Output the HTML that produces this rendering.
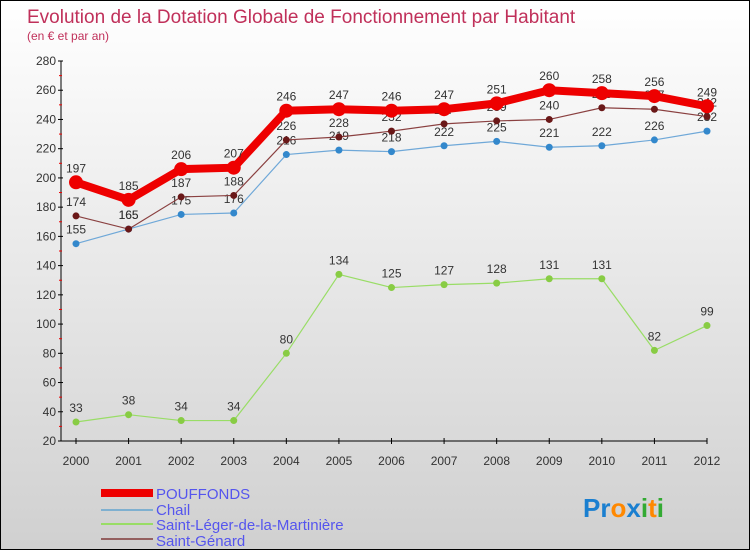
<!DOCTYPE html>
<html><head><meta charset="utf-8"><style>
body{margin:0;}
#c{width:748px;height:548px;border:1px solid #000;background:linear-gradient(#ffffff,#d0d0d0);position:relative;font-family:"Liberation Sans",sans-serif;overflow:hidden}
svg{position:absolute;left:0;top:0}
</style></head><body>
<div id="c">
<svg id="s" width="748" height="548" xmlns="http://www.w3.org/2000/svg">
<text x="26" y="22" font-size="19" fill="#c0305a">Evolution de la Dotation Globale de Fonctionnement par Habitant</text>
<text x="26" y="39" font-size="12" fill="#c0305a">(en € et par an)</text>
<g id="axes"></g><g id="series"></g>
<g>
<rect x="100" y="488" width="52" height="8" fill="#e00"/>
<text x="155" y="498" font-size="15" fill="#5555ee">POUFFONDS</text>
<rect x="100" y="508" width="52" height="2" fill="#7fb0d0"/>
<text x="155" y="514" font-size="15" fill="#5555ee">Chail</text>
<rect x="100" y="522" width="52" height="2" fill="#99dd66"/>
<text x="155" y="529" font-size="15" fill="#5555ee">Saint-Léger-de-la-Martinière</text>
<rect x="100" y="537" width="52" height="2" fill="#946060"/>
<text x="155" y="545" font-size="15" fill="#5555ee">Saint-Génard</text>
</g>
<text x="582" y="516" font-size="26" font-weight="bold"><tspan fill="#1a7fd0">Pr</tspan><tspan fill="#ff8800">o</tspan><tspan fill="#1a7fd0">x</tspan><tspan fill="#33aa33">i</tspan><tspan fill="#ff8800">t</tspan><tspan fill="#33aa33">i</tspan></text>
</svg></div>
<script>
const years=[2000,2001,2002,2003,2004,2005,2006,2007,2008,2009,2010,2011,2012];
const yTicks=[20,40,60,80,100,120,140,160,180,200,220,240,260,280];
const pouffonds=[197,185,206,207,246,247,246,247,251,260,258,256,249];
const chail=[155,165,175,176,216,219,218,222,225,221,222,226,232];
const saintLeger=[33,38,34,34,80,134,125,127,128,131,131,82,99];
const saintGenard=[174,165,187,188,226,228,232,237,239,240,248,247,242];
const NS="http://www.w3.org/2000/svg";
const X=i=>75+i*(706-75)/12;
const Y=v=>440-(v-20)*(380/260);
function mk(tag,attrs,parent){const e=document.createElementNS(NS,tag);for(const k in attrs)e.setAttribute(k,attrs[k]);parent.appendChild(e);return e;}
const ax=document.getElementById('axes');
let l=mk('line',{x1:60,y1:60,x2:60,y2:440,stroke:'#000'},ax);


l=mk('line',{x1:60,y1:440,x2:706,y2:440,stroke:'#000'},ax);


yTicks.forEach(v=>{
 mk('line',{x1:57,y1:Y(v),x2:62,y2:Y(v),stroke:'#000'},ax);
 if(v<280)mk('line',{x1:58,y1:Y(v+10),x2:61,y2:Y(v+10),stroke:'#e00'},ax);
 const t=mk('text',{x:55,y:Y(v)+4,'font-size':12,fill:'#333','text-anchor':'end'},ax);
 t.textContent=v;
 
 
});
years.forEach((y,i)=>{
 mk('line',{x1:X(i),y1:437,x2:X(i),y2:443,stroke:'#000'},ax);
 const t=mk('text',{x:X(i),y:464,'font-size':12,fill:'#333','text-anchor':'middle'},ax);
 t.textContent=y;
 
 
});
const sg=document.getElementById('series');
function draw(data,color,dot,w,r,name){
 const g=mk('g',{},sg);
 
 
 mk('polyline',{points:data.map((v,i)=>X(i)+','+Y(v)).join(' '),fill:'none',stroke:color,'stroke-width':w},g);
 data.forEach((v,i)=>{
  const c=mk('circle',{cx:X(i),cy:Y(v),r:r,fill:dot},g);
  
  
  const t=mk('text',{x:X(i),y:Y(v)-10,'font-size':12,fill:'#333','text-anchor':'middle'},g);
  t.textContent=v;
  
  
 });
}
draw(saintLeger,'#99dd66','#88cc44',1.2,3.5,'saint-leger');
draw(chail,'#6fa8d8','#3388cc',1.2,3.5,'chail');
draw(saintGenard,'#8a4040','#6a1818',1.2,3.5,'saint-genard');
draw(pouffonds,'#ee0000','#ee0000',8,7,'pouffonds');
</script>
</body></html>
